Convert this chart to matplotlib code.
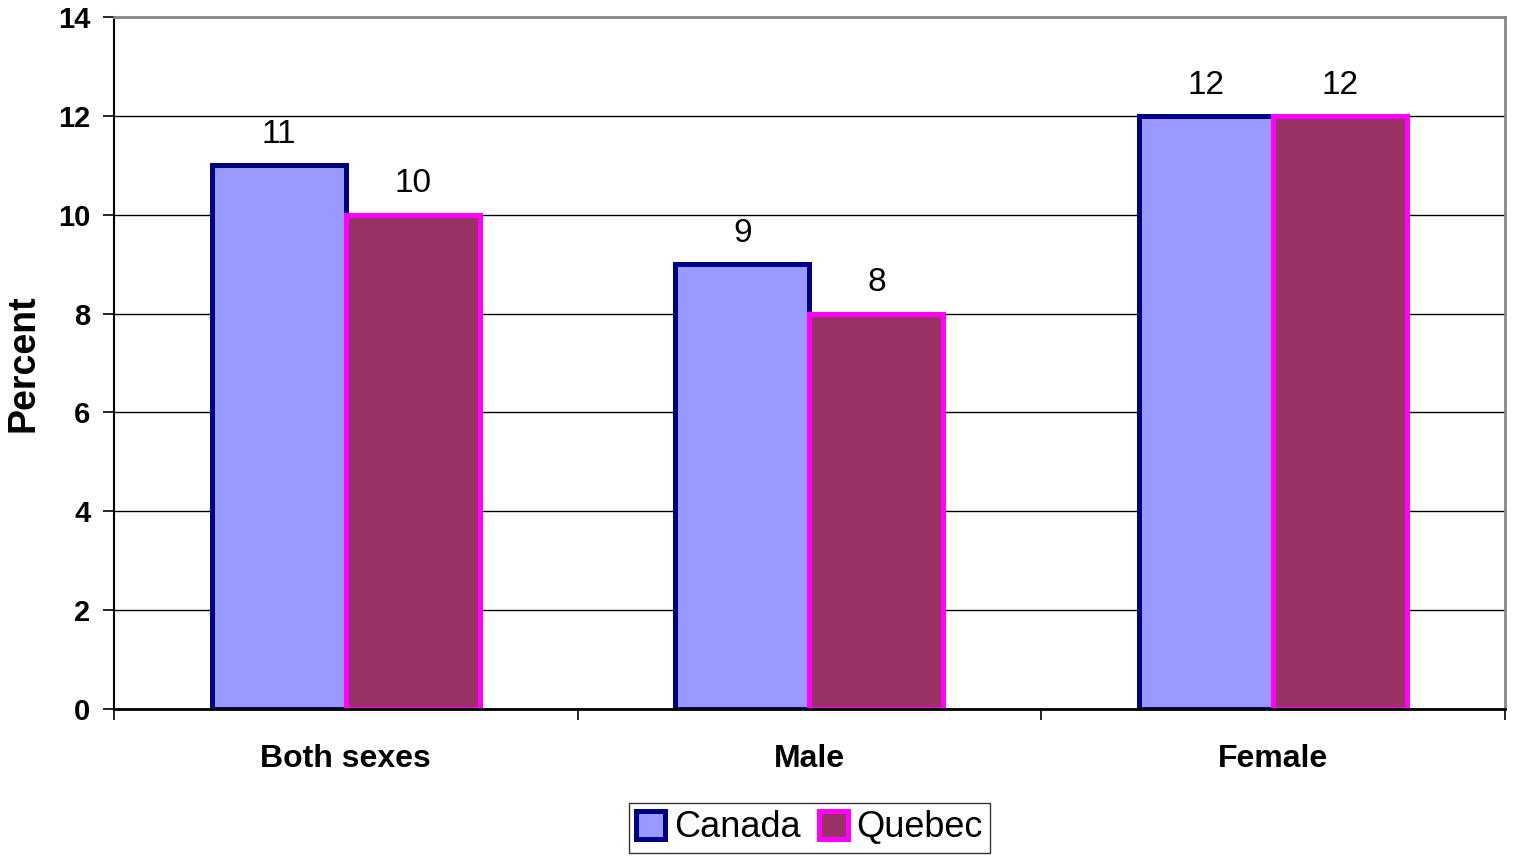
import matplotlib.pyplot as plt
import numpy as np

plt.rcParams['font.family'] = ['Liberation Sans', 'DejaVu Sans']

categories = ['Both sexes', 'Male', 'Female']
canada = [11, 9, 12]
quebec = [10, 8, 12]

fig = plt.figure(figsize=(15.15, 8.56), dpi=100)
ax = fig.add_axes([0.0752, 0.1717, 0.9182, 0.8084])

x = np.arange(len(categories))
w = 0.289

b1 = ax.bar(x - w / 2, canada, w, color='#9999FF', edgecolor='#000080',
            linewidth=3.6, label='Canada', zorder=3)
b2 = ax.bar(x + w / 2, quebec, w, color='#993366', edgecolor='#FF00FF',
            linewidth=3.6, label='Quebec', zorder=4)

for bars, vals in [(b1, canada), (b2, quebec)]:
    for bar, v in zip(bars, vals):
        ax.annotate(str(v), (bar.get_x() + bar.get_width() / 2, v),
                    xytext=(0, 11), textcoords='offset points',
                    ha='center', va='bottom', fontsize=24)

ax.set_xlim(-0.5, 2.5)
ax.set_ylim(0, 14)
ax.set_yticks(range(0, 15, 2))
ax.set_yticklabels([str(v) for v in range(0, 15, 2)], fontsize=21, fontweight='bold')
ax.set_xticks(x)
ax.set_xticklabels(categories, fontsize=23, fontweight='bold')
ax.tick_params(axis='x', which='major', length=0, pad=25)
ax.set_xticks([-0.5, 0.5, 1.5, 2.5], minor=True)
ax.tick_params(axis='x', which='minor', length=8, width=1.2, direction='out')
ax.tick_params(axis='y', length=8, width=1.2, direction='out', pad=9)

ax.grid(axis='y', color='black', linewidth=1, zorder=0)
ax.set_axisbelow(True)

ax.spines['top'].set_color('#888888')
ax.spines['right'].set_color('#888888')
ax.spines['top'].set_linewidth(2)
ax.spines['right'].set_linewidth(2)
ax.spines['left'].set_linewidth(1.5)
ax.spines['bottom'].set_linewidth(2)
ax.spines['bottom'].set_zorder(5)

ax.set_ylabel('Percent', fontsize=27, fontweight='bold', labelpad=12)

leg = ax.legend(loc='upper center', bbox_to_anchor=(0.5, -0.136), ncol=2,
                fontsize=26, frameon=True, fancybox=False, edgecolor='black',
                handlelength=0.8, handleheight=0.8, handletextpad=0.25,
                columnspacing=0.5, borderpad=0.2, borderaxespad=0)
leg.get_frame().set_linewidth(1)

plt.savefig('out.png', dpi=100)
plt.close()
